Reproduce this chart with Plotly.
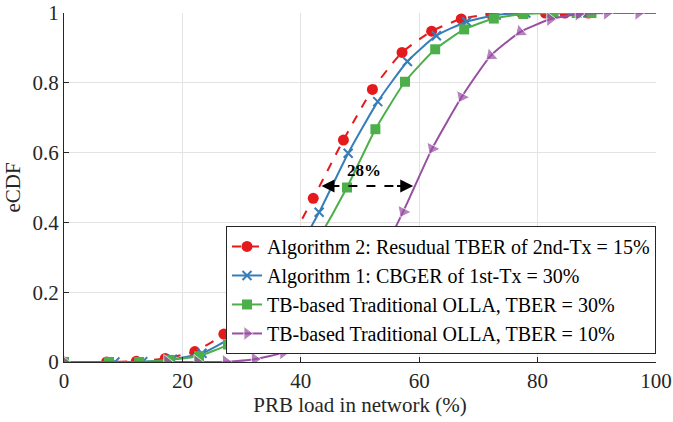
import plotly.graph_objects as go

# ---- data ----
alg2_x = [0, 7.2, 12.2, 17.1, 22.1, 27.0, 32.0, 37.0, 42.1, 47.2, 52.1, 57.1, 62.1, 67.1, 72.1, 77.3, 81.3, 84.6, 88.6]
alg2_y = [0, 0, 0.002, 0.01, 0.03, 0.08, 0.17, 0.31, 0.469, 0.636, 0.781, 0.887, 0.948, 0.983, 0.997, 1.0, 1.0, 1.0, 1.0]

alg1_x = [0, 8.6, 13.3, 18.3, 23.3, 28.2, 33.2, 38.1, 43.1, 48.0, 53.0, 58.0, 62.9, 68.0, 73.0, 78.0, 82.1, 85.5, 88.5]
alg1_y = [0, 0, 0.001, 0.008, 0.025, 0.07, 0.15, 0.28, 0.429, 0.598, 0.746, 0.861, 0.935, 0.975, 0.994, 1.0, 1.0, 1.0, 1.0]

olla30_x = [0, 7.6, 12.7, 17.8, 22.8, 27.7, 32.7, 37.7, 42.7, 47.8, 52.6, 57.6, 62.7, 67.6, 72.6, 77.6, 82.7, 86.6, 89.1]
olla30_y = [0, 0, 0, 0.006, 0.017, 0.05, 0.11, 0.21, 0.345, 0.50, 0.667, 0.803, 0.896, 0.953, 0.984, 0.997, 1.0, 1.0, 1.0]

olla10_x = [0, 17.4, 22.5, 27.3, 32.2, 37.0, 42.3, 47.5, 52.4, 57.3, 62.2, 67.2, 72.1, 77.1, 82.1, 86.9, 91.7, 97.0, 100]
olla10_y = [0, 0, 0, 0.001, 0.008, 0.027, 0.07, 0.15, 0.27, 0.431, 0.612, 0.760, 0.878, 0.946, 0.982, 0.997, 1.0, 1.0, 1.0]

names = [
    "Algorithm 2: Resudual TBER of 2nd-Tx = 15%",
    "Algorithm 1: CBGER of 1st-Tx = 30%",
    "TB-based Traditional OLLA, TBER = 30%",
    "TB-based Traditional OLLA, TBER = 10%",
]
x_ticks = [0, 20, 40, 60, 80, 100]
y_ticks = [0, 0.2, 0.4, 0.6, 0.8, 1]

# annotation: gap between curves at eCDF = 0.5
gap_y = 0.504
gap_x0, gap_x1 = 43.5, 59.0
gap_label = "28%"

RED, BLUE, GREEN, PURPLE = "#e41a1c", "#377eb8", "#4daf4a", "#984ea3"
FONT = "Liberation Serif, Times New Roman, serif"
TXT = "#262626"

# purple triangle orientation (follow the curve on the rising part)
tri_angle = []
tri_size = []
for xv in olla10_x:
    if 55 < xv < 70:
        tri_angle.append(117)
    elif 70 <= xv < 80:
        tri_angle.append(140)
    else:
        tri_angle.append(0)
    tri_size.append(0 if xv >= 100 else 13)

fig = go.Figure()
fig.add_trace(go.Scatter(x=alg2_x, y=alg2_y, name=names[0], mode="lines+markers",
                         line=dict(color=RED, width=2, dash="dash", shape="spline", smoothing=0.5),
                         marker=dict(symbol="circle", size=11, color=RED)))
fig.add_trace(go.Scatter(x=alg1_x, y=alg1_y, name=names[1], mode="lines+markers",
                         line=dict(color=BLUE, width=2, shape="spline", smoothing=0.5),
                         marker=dict(symbol="x-thin", size=9, color=BLUE,
                                     line=dict(color=BLUE, width=2))))
fig.add_trace(go.Scatter(x=olla30_x, y=olla30_y, name=names[2], mode="lines+markers",
                         line=dict(color=GREEN, width=2, shape="spline", smoothing=0.5),
                         marker=dict(symbol="square", size=10, color=GREEN)))
fig.add_trace(go.Scatter(x=olla10_x, y=olla10_y, name=names[3], mode="lines+markers",
                         line=dict(color=PURPLE, width=2, shape="spline", smoothing=0.5),
                         marker=dict(symbol="triangle-right", size=tri_size, color=PURPLE,
                                     angle=tri_angle)))

# dashed double arrow
fig.add_shape(type="line", x0=gap_x0 + 1.5, x1=gap_x1 - 1.5, y0=gap_y, y1=gap_y,
              xref="x", yref="y", line=dict(color="black", width=2, dash="dash"))
for tip, tail in ((gap_x0, gap_x0 + 3.0), (gap_x1, gap_x1 - 3.0)):
    fig.add_annotation(x=tip, y=gap_y, ax=tail, ay=gap_y, xref="x", yref="y",
                       axref="x", ayref="y", text="", showarrow=True,
                       arrowhead=2, arrowsize=1.3, arrowwidth=2, arrowcolor="black")
fig.add_annotation(x=(gap_x0 + gap_x1) / 2 - 0.5, y=gap_y + 0.045, xref="x", yref="y",
                   text="<b>" + gap_label + "</b>", showarrow=False,
                   font=dict(family=FONT, size=17, color="black"))

axis_common = dict(showline=True, linecolor=TXT, linewidth=1, ticks="inside",
                   ticklen=5, tickcolor=TXT, showgrid=True, gridcolor="#e3e3e3",
                   gridwidth=1, zeroline=False, mirror=False, automargin=False,
                   ticklabeloverflow="allow",
                   tickfont=dict(family=FONT, size=21, color=TXT))

fig.update_layout(
    width=673, height=422,
    margin=dict(l=64, r=17, t=13, b=60),
    paper_bgcolor="white", plot_bgcolor="white",
    font=dict(family=FONT, size=21, color=TXT),
    xaxis=dict(range=[0, 100], tickvals=x_ticks,
               title=dict(text="PRB load in network (%)", standoff=4,
                          font=dict(family=FONT, size=21, color=TXT)),
               **axis_common),
    yaxis=dict(range=[0, 1], tickvals=y_ticks,
               title=dict(text="eCDF", standoff=6,
                          font=dict(family=FONT, size=21, color=TXT)),
               **axis_common),
    legend=dict(x=1, y=0.023, xanchor="right", yanchor="bottom",
                bgcolor="white", bordercolor=TXT, borderwidth=1,
                font=dict(family=FONT, size=20, color="black"),
                tracegroupgap=0, itemwidth=30),
    showlegend=True,
)

# remove the default 8px page margin so the figure sits at the window's corner
fig.write_html("out.html",
               config={"displayModeBar": False},
               post_script="document.body.style.margin='0';document.body.style.overflow='hidden';")
